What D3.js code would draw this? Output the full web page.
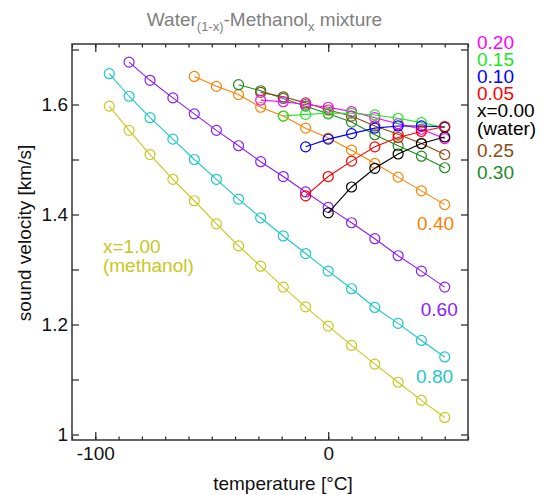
<!DOCTYPE html>
<html>
<head>
<meta charset="utf-8">
<script src="https://cdn.jsdelivr.net/npm/d3@7"></script>
<style>
  body { margin: 0; background: #fff; }
  text { font-family: "Liberation Sans", Arial, sans-serif; }
</style>
</head>
<body>
<div id="chart"></div>
<script>
// temperatures [°C] shared by all series; each series starts at some index
const temps = [-94, -85.5, -76.5, -66.7, -57.5, -48, -38.5, -29, -19.3, -9.7, 0, 10, 20, 30, 40, 50];

// sound velocity [km/s] per methanol fraction x
const v100 = [1.597, 1.553, 1.509, 1.464, 1.425, 1.383, 1.343, 1.306, 1.268, 1.232, 1.197, 1.162, 1.128, 1.095, 1.062, 1.031];
const v080 = [1.656, 1.615, 1.576, 1.537, 1.500, 1.464, 1.428, 1.394, 1.361, 1.329, 1.297, 1.265, 1.231, 1.202, 1.171, 1.141];
const v060 = [1.677, 1.644, 1.612, 1.583, 1.553, 1.525, 1.496, 1.469, 1.441, 1.413, 1.385, 1.356, 1.325, 1.297, 1.268];
const v040 = [1.651, 1.633, 1.618, 1.595, 1.579, 1.557, 1.539, 1.517, 1.493, 1.468, 1.443, 1.418];
const v030 = [1.636, 1.625, 1.611, 1.597, 1.583, 1.568, 1.545, 1.525, 1.506, 1.485];
const v025 = [1.622, 1.614, 1.603, 1.590, 1.579, 1.561, 1.546, 1.529, 1.509];
const v020 = [1.608, 1.605, 1.600, 1.595, 1.587, 1.576, 1.565, 1.555, 1.538];
const v015 = [1.579, 1.582, 1.584, 1.584, 1.581, 1.575, 1.567, 1.558];
const v010 = [1.523, 1.537, 1.547, 1.557, 1.561, 1.561, 1.559];
const v005 = [1.434, 1.469, 1.497, 1.523, 1.540, 1.551, 1.560];
const v000 = [1.403, 1.450, 1.484, 1.510, 1.529, 1.541];

const series = [
  { key: "1.00", values: v100, color: "#c8c81e" },
  { key: "0.80", values: v080, color: "#1ec8c8" },
  { key: "0.60", values: v060, color: "#8b1cff" },
  { key: "0.40", values: v040, color: "#ff8000" },
  { key: "0.30", values: v030, color: "#1e8c1e" },
  { key: "0.25", values: v025, color: "#8b4a14" },
  { key: "0.20", values: v020, color: "#ff00ff" },
  { key: "0.15", values: v015, color: "#22e622" },
  { key: "0.10", values: v010, color: "#0000ff" },
  { key: "0.05", values: v005, color: "#ff0000" },
  { key: "0.00", values: v000, color: "#000000" },
];

// legend text at the right, top to bottom
const rightLabels = ["0.20", "0.15", "0.10", "0.05", "x=0.00", "(water)", "0.25", "0.30"];
const rightColors = ["#ff00ff", "#22e622", "#0000ff", "#ff0000", "#000", "#000", "#8b4a14", "#1e8c1e"];

const width = 547;
const height = 495;
const margin = { top: 44, right: 79, bottom: 55, left: 72 };
const innerWidth = width - margin.left - margin.right;
const innerHeight = height - margin.top - margin.bottom;

const svg = d3.select("#chart")
  .append("svg")
  .attr("width", width)
  .attr("height", height);

const chartArea = svg.append("g")
  .attr("transform", `translate(${margin.left}, ${margin.top})`);

const x = d3.scaleLinear().domain([-110, 60]).range([0, innerWidth]);
const y = d3.scaleLinear().domain([0.99, 1.71]).range([innerHeight, 0]);

// axes: ticks point inward on all four sides
const minorX = d3.range(-110, 61, 10);
const majorX = [-100, 0];
const yTicks = [1.0, 1.1, 1.2, 1.3, 1.4, 1.5, 1.6, 1.7];
const yLabels = new Map([[1.0, "1"], [1.2, "1.2"], [1.4, "1.4"], [1.6, "1.6"]]);

function styleAxis(g) {
  g.select(".domain").remove();
  g.selectAll("line").attr("stroke", "#222").attr("stroke-width", 1.2);
  g.selectAll("text")
    .filter(function () { return this.textContent === ""; })
    .remove();
  g.selectAll("text")
    .attr("fill", "#111")
    .style("font-size", "19px")
    .style("font-family", "'Liberation Sans', Arial, sans-serif");
}

chartArea.append("g")
  .attr("transform", `translate(0, ${innerHeight})`)
  .call(d3.axisBottom(x).tickValues(minorX).tickSize(-3.5).tickFormat(""))
  .call(styleAxis);
chartArea.append("g")
  .attr("transform", `translate(0, ${innerHeight})`)
  .call(d3.axisBottom(x).tickValues(majorX).tickSize(-8).tickPadding(6.5).tickFormat((d) => String(d)))
  .call(styleAxis);
chartArea.append("g")
  .call(d3.axisTop(x).tickValues(minorX).tickSize(-3.5).tickFormat(""))
  .call(styleAxis);
chartArea.append("g")
  .call(d3.axisTop(x).tickValues(majorX).tickSize(-8).tickFormat(""))
  .call(styleAxis);
chartArea.append("g")
  .call(d3.axisLeft(y).tickValues(yTicks).tickSize(-7).tickPadding(4)
    .tickFormat((d) => yLabels.get(d) || ""))
  .call(styleAxis);
chartArea.append("g")
  .attr("transform", `translate(${innerWidth}, 0)`)
  .call(d3.axisRight(y).tickValues(yTicks).tickSize(-7).tickFormat(""))
  .call(styleAxis);

chartArea.append("rect")
  .attr("width", innerWidth)
  .attr("height", innerHeight)
  .attr("fill", "none")
  .attr("stroke", "#333")
  .attr("stroke-width", 1.5);

// lines and open circle markers
const line = d3.line()
  .x((d) => x(d.t))
  .y((d) => y(d.v));

series.forEach((s) => {
  const start = temps.length - s.values.length;
  s.points = s.values.map((v, i) => ({ t: temps[start + i], v: v }));
});

const groups = chartArea.selectAll("g.series")
  .data(series, (d) => d.key)
  .join("g")
  .attr("class", "series");

groups.append("path")
  .attr("d", (d) => line(d.points))
  .attr("fill", "none")
  .attr("stroke", (d) => d.color)
  .attr("stroke-width", 1.1);

groups.each(function (s) {
  d3.select(this)
    .selectAll("circle")
    .data(s.points)
    .join("circle")
    .attr("cx", (d) => x(d.t))
    .attr("cy", (d) => y(d.v))
    .attr("r", 5)
    .attr("fill", "none")
    .attr("stroke", s.color)
    .attr("stroke-width", 1.2);
});

// inline labels
const inline = chartArea.append("g").style("font-size", "19px");
inline.append("text")
  .attr("x", x(-96.7)).attr("y", y(1.330))
  .attr("fill", "#c8c81e")
  .text("x=1.00");
inline.append("text")
  .attr("x", x(-96.7)).attr("y", y(1.296))
  .attr("fill", "#c8c81e")
  .text("(methanol)");
inline.append("text")
  .attr("x", x(54)).attr("y", y(1.371))
  .attr("text-anchor", "end").attr("fill", "#ff8000")
  .text("0.40");
inline.append("text")
  .attr("x", x(55.6)).attr("y", y(1.215))
  .attr("text-anchor", "end").attr("fill", "#8b1cff")
  .text("0.60");
inline.append("text")
  .attr("x", x(53.6)).attr("y", y(1.093))
  .attr("text-anchor", "end").attr("fill", "#1ec8c8")
  .text("0.80");

// right hand labels
const rightY = [49.3, 66.3, 83.3, 100.3, 117.3, 135, 156.7, 179.3];
svg.append("g")
  .style("font-size", "19px")
  .selectAll("text")
  .data(rightLabels)
  .join("text")
  .attr("x", 477)
  .attr("y", (d, i) => rightY[i])
  .attr("fill", (d, i) => rightColors[i])
  .text((d) => d);

// title
const title = svg.append("text")
  .attr("x", 264.5)
  .attr("y", 26)
  .attr("text-anchor", "middle")
  .attr("fill", "#808080")
  .style("font-size", "19px");
title.append("tspan").text("Water");
title.append("tspan").attr("dy", 5).style("font-size", "13px").text("(1-x)");
title.append("tspan").attr("dy", -5).text("-Methanol");
title.append("tspan").attr("dy", 5).style("font-size", "13px").text("x");
title.append("tspan").attr("dy", -5).text(" mixture");

// axis titles
svg.append("text")
  .attr("x", 283)
  .attr("y", 490)
  .attr("text-anchor", "middle")
  .attr("fill", "#111")
  .style("font-size", "19px")
  .text("temperature [°C]");

svg.append("text")
  .attr("transform", "translate(31, 233) rotate(-90)")
  .attr("text-anchor", "middle")
  .attr("fill", "#111")
  .style("font-size", "19px")
  .text("sound velocity [km/s]");
</script>
</body>
</html>
